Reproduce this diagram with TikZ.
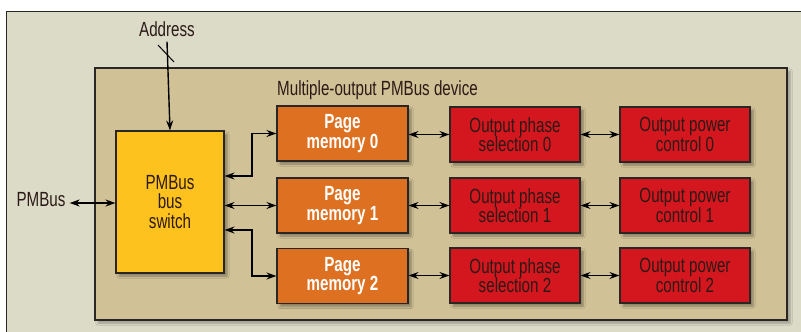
\documentclass[tikz,border=0pt]{standalone}
\usepackage{fontspec}
\setmainfont{Liberation Sans}[FakeStretch=0.74]
\usetikzlibrary{arrows.meta,shadows.blur,calc}
\definecolor{outerbg}{HTML}{DCDBC8}
\definecolor{innerbg}{HTML}{D0C196}
\definecolor{swyellow}{HTML}{FEC21F}
\definecolor{pgorange}{HTML}{DD7021}
\definecolor{boxred}{HTML}{D4161F}
\definecolor{edge}{HTML}{2A2623}
\definecolor{txt}{HTML}{2B1A16}
\tikzset{
  box/.style={draw=edge,line width=1.1pt,minimum height=55pt,inner sep=0pt,align=center,
    font=\fontsize{20.5}{19.5}\selectfont,
    blur shadow={shadow xshift=3pt,shadow yshift=-3pt,shadow opacity=35,shadow blur steps=6}},
  pagebox/.style={box,fill=pgorange,minimum width=131pt,text=white,font=\fontsize{20.5}{19.5}\selectfont\bfseries},
  phasebox/.style={box,fill=boxred,minimum width=130pt,text=txt},
  switchbox/.style={box,fill=swyellow,minimum width=108pt,minimum height=142pt,text=txt},
  lbl/.style={font=\fontsize{20.5}{19.5}\selectfont,text=txt,inner sep=0pt},
  dbl/.style={line width=1.4pt,draw=black,{Stealth[length=10pt,width=7pt]}-{Stealth[length=10pt,width=7pt]}},
  sgl/.style={line width=1.4pt,draw=black,-{Stealth[length=10pt,width=7pt]}}
}
\begin{document}
\begin{tikzpicture}[x=1pt,y=-1pt]
\useasboundingbox (0,0) rectangle (801,332);
\fill[white] (0,0) rectangle (801,332);
\begin{scope}
\clip (0,0) rectangle (801,332);
\draw[fill=outerbg,draw=edge,line width=1pt] (6,11) rectangle (812,340);
\draw[fill=innerbg,draw=edge,line width=1.1pt,
  blur shadow={shadow xshift=3pt,shadow yshift=-3pt,shadow opacity=30,shadow blur steps=6}] (95,68) rectangle (787,320);
\end{scope}

\node[lbl,anchor=west] (dev) at (277,90) {Multiple-output PMBus device};

\node[switchbox] (sw) at (170,202) {PMBus\\bus\\switch};

\node[pagebox] (p0) at (342.5,133.5) {Page\\memory 0};
\node[pagebox] (p1) at (342.5,205.5) {Page\\memory 1};
\node[pagebox] (p2) at (342.5,276) {Page\\memory 2};

\node[phasebox] (s0) at (515,134.5) {Output phase\\selection 0};
\node[phasebox] (s1) at (515,205.5) {Output phase\\selection 1};
\node[phasebox] (s2) at (515,275.5) {Output phase\\selection 2};

\node[phasebox] (c0) at (685,134.5) {Output power\\control 0};
\node[phasebox] (c1) at (685,205.5) {Output power\\control 1};
\node[phasebox] (c2) at (685,275.5) {Output power\\control 2};

\node[lbl] (pm) at (41,200) {PMBus};
\node[lbl] (addr) at (167,29) {Address};

% connectors
\draw[dbl] (pm.east |- 0,203) ++(4,0) coordinate (pmend) -- (sw.west |- pmend);
\draw[sgl] (addr.south) ++(0,5) coordinate (adtop) -- (sw.north);
\draw[line width=1pt] (158,45) -- (174,62);

\coordinate (j0) at (252,176);
\coordinate (j2) at (252,230);
\draw[dbl] (sw.east |- j0) -- (j0) |- (p0.west);
\draw[dbl] (sw.east |- p1.west) -- (p1.west);
\draw[dbl] (sw.east |- j2) -- (j2) |- (p2.west);

\draw[dbl] (p0.east |- s0.west) -- (s0.west);
\draw[dbl] (p1.east) -- (s1.west);
\draw[dbl] (p2.east |- s2.west) -- (s2.west);
\draw[dbl] (s0.east) -- (c0.west);
\draw[dbl] (s1.east) -- (c1.west);
\draw[dbl] (s2.east) -- (c2.west);
\end{tikzpicture}
\end{document}
